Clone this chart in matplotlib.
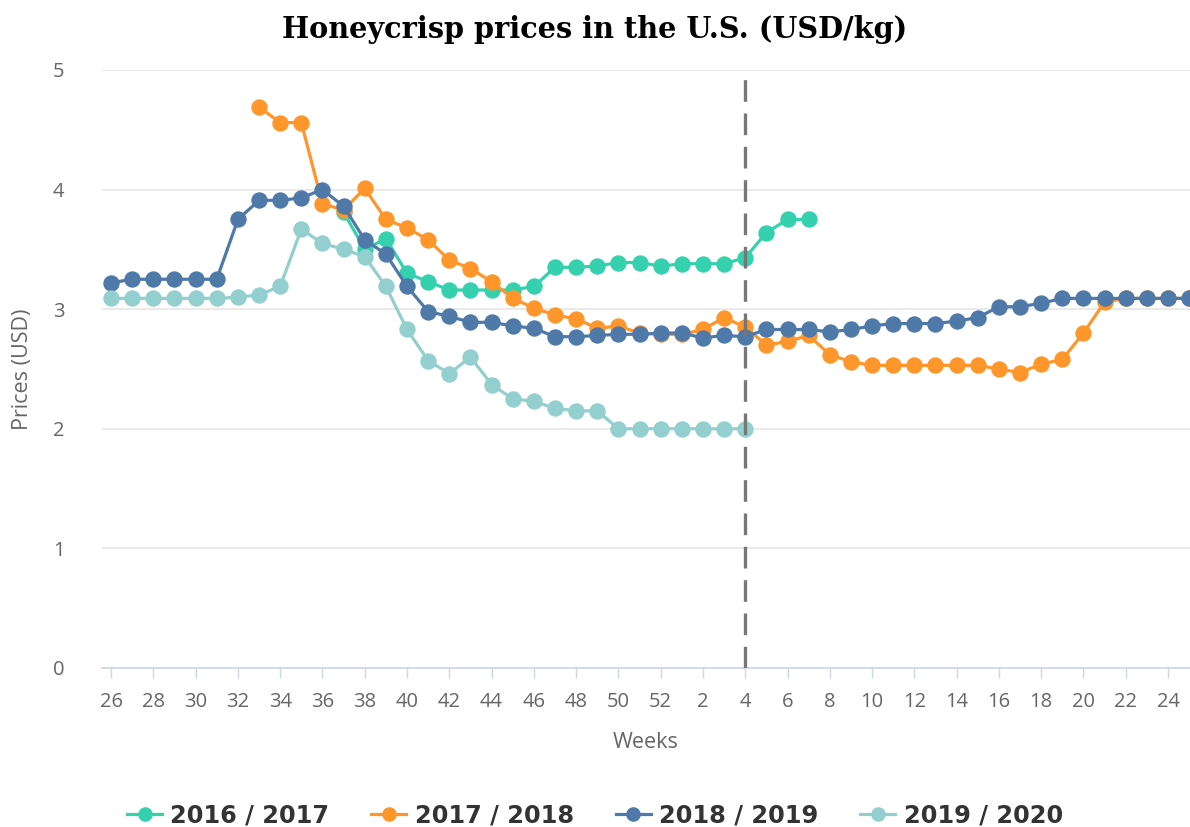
"""Honeycrisp prices chart"""
import numpy as np
import matplotlib
matplotlib.use("Agg")
import matplotlib.pyplot as plt
from matplotlib.lines import Line2D

nan = np.nan

# Weeks of the season, 26..52 then 1..25
weeks = list(range(26, 53)) + list(range(1, 26))

s2016_2017 = [nan] * 11 + [3.81, 3.50, 3.59, 3.30, 3.23, 3.16, 3.16, 3.16, 3.16, 3.19,
                           3.35, 3.35, 3.36, 3.39, 3.39, 3.36,
                           3.38, 3.38, 3.38, 3.43, 3.64, 3.75, 3.75] + [nan] * 18

s2017_2018 = [nan] * 7 + [4.69, 4.56, 4.56, 3.88, 3.83, 4.01, 3.75, 3.68, 3.58, 3.41,
                          3.34, 3.23, 3.09, 3.01, 2.95, 2.92, 2.84, 2.86, 2.80, 2.79,
                          2.79, 2.83, 2.93, 2.85, 2.70, 2.73, 2.78, 2.62, 2.56, 2.53,
                          2.53, 2.53, 2.53, 2.53, 2.53, 2.50, 2.47, 2.54, 2.58, 2.80,
                          3.06, 3.09, 3.09, 3.09, 3.09]

s2018_2019 = [3.22, 3.25, 3.25, 3.25, 3.25, 3.25, 3.75, 3.91, 3.91, 3.93, 4.00, 3.86,
              3.58, 3.46, 3.19, 2.98, 2.94, 2.89, 2.89, 2.86, 2.84, 2.77, 2.77, 2.78,
              2.79, 2.79, 2.80,
              2.80, 2.76, 2.78, 2.77, 2.83, 2.83, 2.83, 2.81, 2.83, 2.86, 2.88, 2.88,
              2.88, 2.90, 2.93, 3.02, 3.02, 3.05, 3.09, 3.09, 3.09, 3.09, 3.09, 3.09, 3.09]

s2019_2020 = [3.09, 3.09, 3.09, 3.09, 3.09, 3.09, 3.10, 3.12, 3.19, 3.67, 3.55, 3.50,
              3.44, 3.19, 2.83, 2.57, 2.46, 2.60, 2.37, 2.25, 2.23, 2.17, 2.15, 2.15,
              2.00, 2.00, 2.00,
              2.00, 2.00, 2.00, 2.00] + [nan] * 21

series_names = ["2016 / 2017", "2017 / 2018", "2018 / 2019", "2019 / 2020"]
colors = ["#35d1ae", "#ff962b", "#4f79a8", "#92cfce"]
current_week = 4

x = np.arange(len(weeks))

fig = plt.figure(figsize=(11.9, 8.27), dpi=100)
ax = fig.add_axes([0.0857, 0.1923, 0.9143, 0.7231])

all_series = [s2016_2017, s2017_2018, s2018_2019, s2019_2020]
for i, (vals, name, col) in enumerate(zip(all_series, series_names, colors)):
    ax.plot(x, vals, color=col, lw=2.3, marker="o", markersize=11.8,
            markeredgewidth=0, label=name, zorder=3 + i, clip_on=False)

# vertical marker for the current week (season 2019/2020)
cw = weeks.index(current_week, 27)
ax.axvline(cw, color="#777777", lw=2.4, ls=(0, (6.5, 3.5)), zorder=10)

ax.set_ylim(0, 5)
ax.set_xlim(-0.43, 51.04)
ax.set_yticks(range(0, 6))
ax.yaxis.grid(True, color="#e6e6e6", lw=1.2)
ax.set_axisbelow(True)

ax.set_xticks(x[::2])
ax.set_xticklabels([str(w) for w in weeks[::2]])

for s in ["top", "right", "left"]:
    ax.spines[s].set_visible(False)
ax.spines["bottom"].set_color("#ccd6eb")
ax.spines["bottom"].set_linewidth(1.2)

ax.tick_params(axis="x", colors="#ccd6eb", length=7.5, width=1, pad=10,
               labelcolor="#666666", labelsize=14.5)
ax.tick_params(axis="y", length=0, pad=27, labelcolor="#666666", labelsize=14.5)
for lab in ax.get_xticklabels() + ax.get_yticklabels():
    lab.set_fontfamily("Open Sans")

ax.set_xlabel("Weeks", fontsize=15.5, color="#666666", family="Open Sans", labelpad=14)
ax.set_ylabel("Prices (USD)", fontsize=15.5, color="#666666", family="Open Sans", labelpad=14)

fig.suptitle("Honeycrisp prices in the U.S. (USD/kg)", x=0.5, y=0.982,
             fontsize=20.7, fontweight="bold", family="DejaVu Serif")

handles = [Line2D([0], [0], color=c, lw=2.3, marker="o", markersize=10.5, markeredgewidth=0)
           for c in colors]
fig.legend(handles, series_names, loc="center", bbox_to_anchor=(0.5, 0.014),
           ncol=4, frameon=False, handlelength=1.45, handletextpad=0.35,
           columnspacing=1.75, prop={"family": "DejaVu Sans", "weight": "bold", "size": 17.3},
           labelcolor="#333333")

fig.savefig("out.png", dpi=100)
